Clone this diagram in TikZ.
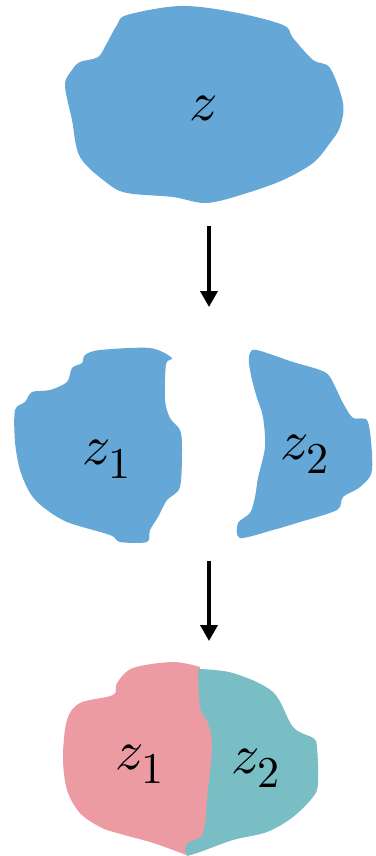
\documentclass[tikz,border=0pt]{standalone}
\usepackage{unicode-math}
\setmathfont{Latin Modern Math}
\DeclareMathSizes{56}{56}{44}{34}
\usetikzlibrary{arrows.meta}
\definecolor{blobblue}{RGB}{101,168,216}
\definecolor{blobpink}{RGB}{236,155,163}
\definecolor{blobteal}{RGB}{122,190,197}
\tikzset{
  lbl/.style={inner sep=0pt, font=\fontsize{56}{60}\selectfont},
  flowarrow/.style={line width=3.6pt, -{Triangle[width=17pt,length=16pt]}},
  sm/.style={smooth, tension=0.55},
}
\begin{document}
\begin{tikzpicture}[x=1pt,y=-1pt]
\useasboundingbox (0,0) rectangle (375,856);
% top blob
\fill[blobblue] plot[smooth cycle, tension=0.55] coordinates {
 (117,25) (127,15) (180,6) (233,12) (283,25) (293,38) (313,60) (330,68)
 (343,103) (340,127) (330,143) (313,163) (283,180) (247,193) (207,203)
 (173,197) (127,193) (107,183) (80,157) (72,120) (65,85) (72,70) (80,62) (98,57) (107,43)};
\node[lbl] (z) at (203,108) {$z$};
% middle left blob
\fill[blobblue] plot[smooth cycle, tension=0.5] coordinates {
 (85,355) (100,350) (150,348) (172,358) (166,364) (165,400) (170,418) (180,430)
 (182,447) (180,487) (167,500) (158,517) (150,530) (147,542) (120,542) (110,535)
 (67,522) (43,507) (30,493) (20,470) (15,442) (15,410) (25,402) (32,392)
 (50,390) (67,382) (72,368) (82,363)};
\node[lbl] (z1a) at (107,459) {$z_1$};
% middle right blob
\fill[blobblue] plot[smooth cycle, tension=0.5] coordinates {
 (250,353) (257,350) (293,362) (320,370) (330,377) (343,403) (353,418) (368,422)
 (372,470) (360,487) (343,497) (337,510) (300,522) (273,530) (240,538) (238,523)
 (250,513) (255,497) (258,478) (265,447) (263,417) (257,398) (252,380) (249,363)};
\node[lbl] (z2a) at (305,454) {$z_2$};
% bottom blob: pink part
\fill[blobpink] plot[sm] coordinates {
 (200,667) (173,662) (133,668) (117,683) (113,695) (80,703) (67,720) (63,757)
 (67,790) (80,813) (100,827) (117,833) (150,842) (173,850) (186,855)}
 -- plot[sm] coordinates {(190,845) (205,833) (210,790) (214,747) (210,723) (202,707) (200,667)} -- cycle;
% bottom blob: teal part
\fill[blobteal] plot[sm] coordinates {
 (198,669) (233,673) (273,692) (293,727) (313,738) (317,747) (318,783) (313,797)
 (293,817) (267,832) (233,840) (200,852) (187,856)}
 -- plot[sm] coordinates {(185,850) (188,843) (203,833) (208,790) (212,747) (208,723) (200,707) (198,669)} -- cycle;
\node[lbl] (z1b) at (140,764) {$z_1$};
\node[lbl] (z2b) at (256,768) {$z_2$};
% arrows
\coordinate (a1s) at (209,226);
\coordinate (a1e) at (209,307);
\coordinate (a2s) at (209,561);
\coordinate (a2e) at (209,641);
\draw[flowarrow] (a1s) -- (a1e);
\draw[flowarrow] (a2s) -- (a2e);
\end{tikzpicture}
\end{document}
